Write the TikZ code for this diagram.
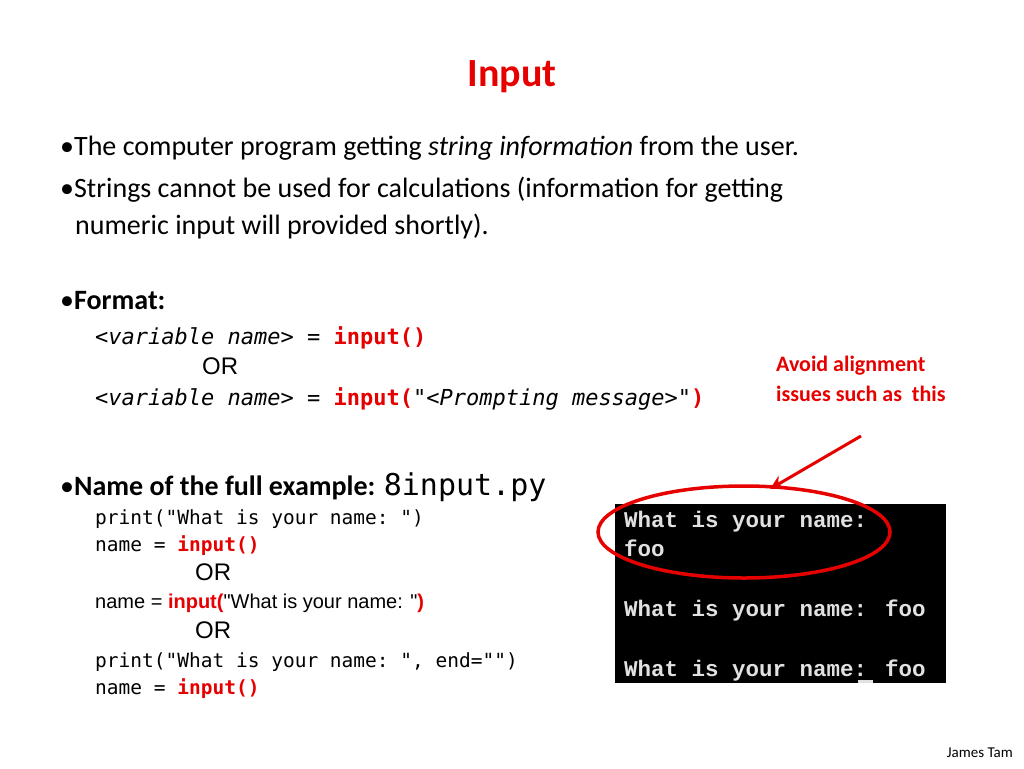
\documentclass[tikz,border=0pt]{standalone}
\usepackage{fontspec}
\usetikzlibrary{arrows.meta}
\setmainfont{Carlito}
\setmonofont{DejaVu Sans Mono}
\newfontfamily\arialf{Liberation Sans}
\newfontfamily\courf{Liberation Mono}
\definecolor{myred}{RGB}{230,0,0}
\definecolor{termfg}{RGB}{225,225,225}
\newcommand{\rd}[1]{\textcolor{myred}{\textbf{#1}}}
\tikzset{
  txt/.style={anchor=base west, inner sep=0pt, font=\fontsize{28}{34}\selectfont},
  codea/.style={anchor=base west, inner sep=0pt, font=\fontsize{22}{26}\selectfont\ttfamily},
  codeb/.style={anchor=base west, inner sep=0pt, font=\fontsize{19.5}{24}\selectfont\ttfamily},
  orf/.style={anchor=base west, inner sep=0pt, font=\fontsize{24}{28}\selectfont\arialf},
  term/.style={anchor=base west, inner sep=0pt, text=termfg, font=\fontsize{22.5}{26}\selectfont\courf\bfseries},
}
\begin{document}
\begin{tikzpicture}[x=1pt,y=-1pt]
\useasboundingbox (0,0) rectangle (1024,768);
\node[anchor=base, inner sep=0pt, text=myred, font=\fontsize{40}{48}\selectfont\bfseries] (title) at (512,86) {Input};
\node[txt] (l1) at (60,155) {•The computer program getting \textit{string information} from the user.};
\node[txt] (l2) at (60,197) {•Strings cannot be used for calculations (information for getting};
\node[txt] (l3) at (75,234) {numeric input will provided shortly).};
\node[txt] (fmt) at (60,309) {•\textbf{Format:}};
\node[codea] (f1) at (95,344) {<\textit{variable name}> = \rd{input()}};
\node[orf] (or1) at (202,374) {OR};
\node[codea] (f2) at (95,405) {<\textit{variable name}> = \rd{input(}"<\textit{Prompting message}>"\rd{)}};
\node[anchor=base west, inner sep=0pt, align=left, text=myred, font=\fontsize{22}{30}\selectfont\bfseries] (avoid) at (776,401) {Avoid alignment\\issues such as~ this};
\node[txt] (nm) at (60,495) {•\textbf{Name of the full example:} {\ttfamily\fontsize{30}{34}\selectfont 8input.py}};
\node[codeb] (c1) at (95,524) {print("What is your name: ")};
\node[codeb] (c2) at (95,551) {name = \rd{input()}};
\node[orf] (or2) at (195,580) {OR};
\node[anchor=base west, inner sep=0pt, font=\fontsize{20}{24}\selectfont\arialf] (c3) at (95,608) {name = \rd{input(}"What is your name: "\rd{)}};
\node[orf] (or3) at (195,638) {OR};
\node[codeb] (c4) at (95,667) {print("What is your name: ", end="")};
\node[codeb] (c5) at (95,694) {name = \rd{input()}};
\fill[black] (615,504) rectangle (946,683);
\node[term] (t1) at (624,527) {What is your name:};
\node[term] (t2) at (624,556) {foo};
\node[term] (t3) at (624,616) {What is your name: foo};
\node[term] (t4) at (624,676) {What is your name: foo};
\fill[termfg] (858,680) rectangle (873,683);
\draw[myred, line width=3.5pt] (744,532) ellipse [x radius=146, y radius=46];
\coordinate (as) at (861,436);
\coordinate (ae) at (770,489);
\draw[myred, line width=3pt, -{Stealth[length=14pt,width=14pt]}] (as) -- (ae);
\node[anchor=base east, inner sep=0pt, font=\fontsize{15}{18}\selectfont] (jt) at (1013,757) {James Tam};
\end{tikzpicture}
\end{document}
